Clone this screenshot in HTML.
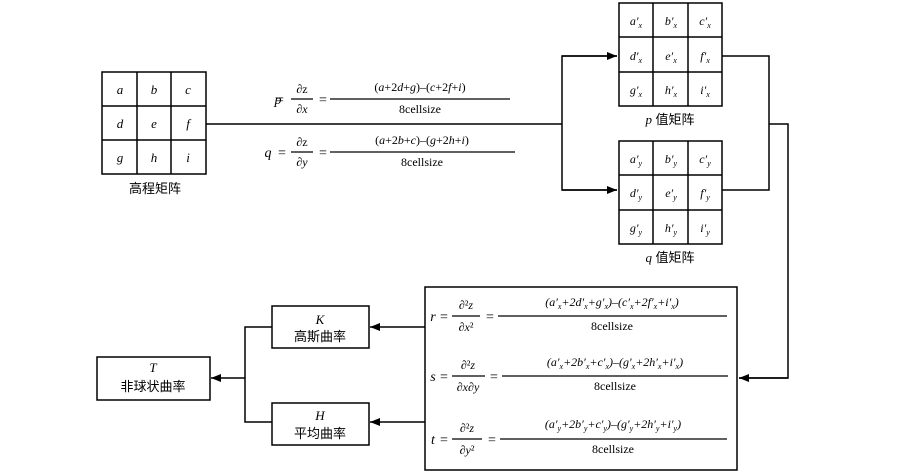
<!DOCTYPE html>
<html><head><meta charset="utf-8"><style>
body{margin:0;background:#fff}
svg{display:block}
text{font-family:"Liberation Serif","Noto Serif CJK SC",serif;fill:#000}
.i{font-style:italic}
.c{font-family:"Liberation Sans","Noto Sans CJK SC",sans-serif}
</style></head><body>
<svg width="900" height="476" viewBox="0 0 900 476" xmlns="http://www.w3.org/2000/svg">
<defs><marker id="a" markerWidth="10" markerHeight="8" refX="10" refY="4" orient="auto" markerUnits="userSpaceOnUse"><path d="M0,0 L10,4 L0,8z" fill="#000"/></marker></defs>
<g stroke="#000" stroke-width="1.5" fill="none">
<rect x="102" y="72" width="104" height="102"/>
<line x1="137" y1="72" x2="137" y2="174"/><line x1="171" y1="72" x2="171" y2="174"/>
<line x1="102" y1="106" x2="206" y2="106"/><line x1="102" y1="140" x2="206" y2="140"/>
<rect x="619" y="3" width="103" height="103"/>
<line x1="653" y1="3" x2="653" y2="106"/><line x1="688" y1="3" x2="688" y2="106"/>
<line x1="619" y1="37" x2="722" y2="37"/><line x1="619" y1="72" x2="722" y2="72"/>
<rect x="619" y="141" width="103" height="103"/>
<line x1="653" y1="141" x2="653" y2="244"/><line x1="688" y1="141" x2="688" y2="244"/>
<line x1="619" y1="175" x2="722" y2="175"/><line x1="619" y1="210" x2="722" y2="210"/>
<line x1="206" y1="124" x2="562" y2="124"/>
<polyline points="617,56 562,56 562,190 617,190" marker-start="none"/>
<line x1="562" y1="56" x2="617" y2="56" marker-end="url(#a)"/>
<line x1="562" y1="190" x2="617" y2="190" marker-end="url(#a)"/>
<polyline points="722,56 769,56 769,190 722,190"/>
<polyline points="769,124 788,124 788,378 739,378"/>
<line x1="788" y1="378" x2="739" y2="378" marker-end="url(#a)"/>
<rect x="425" y="287" width="312" height="183"/>
<rect x="272" y="306" width="97" height="42"/>
<rect x="272" y="403" width="97" height="42"/>
<rect x="97" y="357" width="113" height="43"/>
<line x1="425" y1="327" x2="370" y2="327" marker-end="url(#a)"/>
<line x1="425" y1="422" x2="370" y2="422" marker-end="url(#a)"/>
<polyline points="272,327 245,327 245,422 272,422"/>
<line x1="245" y1="378" x2="211" y2="378" marker-end="url(#a)"/>
<g stroke-width="1.2">
<line x1="330" y1="99" x2="510" y2="99"/><line x1="330" y1="152" x2="515" y2="152"/>
<line x1="291" y1="99" x2="313" y2="99"/><line x1="291" y1="152" x2="313" y2="152"/>
<line x1="498" y1="316" x2="727" y2="316"/><line x1="502" y1="376" x2="728" y2="376"/><line x1="500" y1="439" x2="727" y2="439"/>
<line x1="452" y1="316" x2="480" y2="316"/><line x1="452" y1="376" x2="485" y2="376"/><line x1="452" y1="439" x2="482" y2="439"/>
</g></g>
<g font-size="13" text-anchor="middle" class="i">
<text x="120" y="94">a</text><text x="154" y="94">b</text><text x="188" y="94">c</text>
<text x="120" y="128">d</text><text x="154" y="128">e</text><text x="188" y="128">f</text>
<text x="120" y="162">g</text><text x="154" y="162">h</text><text x="188" y="162">i</text>
</g>
<g font-size="12" text-anchor="middle" class="i">
<text x="636" y="25">a′<tspan font-size="8" dy="3">x</tspan></text><text x="671" y="25">b′<tspan font-size="8" dy="3">x</tspan></text><text x="705" y="25">c′<tspan font-size="8" dy="3">x</tspan></text>
<text x="636" y="60">d′<tspan font-size="8" dy="3">x</tspan></text><text x="671" y="60">e′<tspan font-size="8" dy="3">x</tspan></text><text x="705" y="60">f′<tspan font-size="8" dy="3">x</tspan></text>
<text x="636" y="94">g′<tspan font-size="8" dy="3">x</tspan></text><text x="671" y="94">h′<tspan font-size="8" dy="3">x</tspan></text><text x="705" y="94">i′<tspan font-size="8" dy="3">x</tspan></text>
<text x="636" y="163">a′<tspan font-size="8" dy="3">y</tspan></text><text x="671" y="163">b′<tspan font-size="8" dy="3">y</tspan></text><text x="705" y="163">c′<tspan font-size="8" dy="3">y</tspan></text>
<text x="636" y="197">d′<tspan font-size="8" dy="3">y</tspan></text><text x="671" y="197">e′<tspan font-size="8" dy="3">y</tspan></text><text x="705" y="197">f′<tspan font-size="8" dy="3">y</tspan></text>
<text x="636" y="232">g′<tspan font-size="8" dy="3">y</tspan></text><text x="671" y="232">h′<tspan font-size="8" dy="3">y</tspan></text><text x="705" y="232">i′<tspan font-size="8" dy="3">y</tspan></text>
</g>
<g font-size="13" text-anchor="middle">
<text x="155" y="193" class="c">高程矩阵</text>
<text x="670" y="124" class="c"><tspan class="i" font-family="Liberation Serif">p</tspan> 值矩阵</text>
<text x="670" y="262" class="c"><tspan class="i" font-family="Liberation Serif">q</tspan> 值矩阵</text>
<text x="320" y="324" class="i">K</text><text x="320" y="341" class="c">高斯曲率</text>
<text x="320" y="420" class="i">H</text><text x="320" y="438" class="c">平均曲率</text>
<text x="153" y="372" class="i">T</text><text x="153" y="391" class="c">非球状曲率</text>
</g>
<g font-size="12" text-anchor="middle">
<text x="278" y="104" class="i" font-size="14">p</text><text x="323" y="104" font-size="14">=</text><text x="280" y="104" font-size="14">=</text>
<text x="302" y="93">∂z</text><text x="302" y="113">∂<tspan class="i">x</tspan></text>
<text x="420" y="91">(<tspan class="i">a</tspan>+2<tspan class="i">d</tspan>+<tspan class="i">g</tspan>)–(<tspan class="i">c</tspan>+2<tspan class="i">f</tspan>+<tspan class="i">i</tspan>)</text>
<text x="420" y="113">8cellsize</text>
<text x="268" y="157" class="i" font-size="14">q</text><text x="282" y="157" font-size="14">=</text><text x="323" y="157" font-size="14">=</text>
<text x="302" y="146">∂z</text><text x="302" y="166">∂<tspan class="i">y</tspan></text>
<text x="422" y="144">(<tspan class="i">a</tspan>+2<tspan class="i">b</tspan>+<tspan class="i">c</tspan>)–(<tspan class="i">g</tspan>+2<tspan class="i">h</tspan>+<tspan class="i">i</tspan>)</text>
<text x="422" y="166">8cellsize</text>

<text x="433" y="321" class="i" font-size="14">r</text><text x="444" y="321" font-size="14">=</text><text x="490" y="321" font-size="14">=</text>
<text x="466" y="309">∂²<tspan class="i">z</tspan></text><text x="466" y="331">∂<tspan class="i">x</tspan>²</text>
<text x="612" y="306"><tspan class="i">(a′<tspan font-size="8" dy="3">x</tspan><tspan dy="-3">+2d′</tspan><tspan font-size="8" dy="3">x</tspan><tspan dy="-3">+g′</tspan><tspan font-size="8" dy="3">x</tspan><tspan dy="-3">)–(c′</tspan><tspan font-size="8" dy="3">x</tspan><tspan dy="-3">+2f′</tspan><tspan font-size="8" dy="3">x</tspan><tspan dy="-3">+i′</tspan><tspan font-size="8" dy="3">x</tspan><tspan dy="-3">)</tspan></tspan></text>
<text x="612" y="330">8cellsize</text>
<text x="433" y="381" class="i" font-size="14">s</text><text x="444" y="381" font-size="14">=</text><text x="494" y="381" font-size="14">=</text>
<text x="468" y="369">∂²<tspan class="i">z</tspan></text><text x="468" y="391">∂<tspan class="i">x</tspan>∂<tspan class="i">y</tspan></text>
<text x="615" y="366"><tspan class="i">(a′<tspan font-size="8" dy="3">x</tspan><tspan dy="-3">+2b′</tspan><tspan font-size="8" dy="3">x</tspan><tspan dy="-3">+c′</tspan><tspan font-size="8" dy="3">x</tspan><tspan dy="-3">)–(g′</tspan><tspan font-size="8" dy="3">x</tspan><tspan dy="-3">+2h′</tspan><tspan font-size="8" dy="3">x</tspan><tspan dy="-3">+i′</tspan><tspan font-size="8" dy="3">x</tspan><tspan dy="-3">)</tspan></tspan></text>
<text x="615" y="390">8cellsize</text>
<text x="433" y="444" class="i" font-size="14">t</text><text x="444" y="444" font-size="14">=</text><text x="492" y="444" font-size="14">=</text>
<text x="467" y="432">∂²<tspan class="i">z</tspan></text><text x="467" y="454">∂<tspan class="i">y</tspan>²</text>
<text x="613" y="428"><tspan class="i">(a′<tspan font-size="8" dy="3">y</tspan><tspan dy="-3">+2b′</tspan><tspan font-size="8" dy="3">y</tspan><tspan dy="-3">+c′</tspan><tspan font-size="8" dy="3">y</tspan><tspan dy="-3">)–(g′</tspan><tspan font-size="8" dy="3">y</tspan><tspan dy="-3">+2h′</tspan><tspan font-size="8" dy="3">y</tspan><tspan dy="-3">+i′</tspan><tspan font-size="8" dy="3">y</tspan><tspan dy="-3">)</tspan></tspan></text>
<text x="613" y="453">8cellsize</text>
</g>
</svg>
</body></html>
